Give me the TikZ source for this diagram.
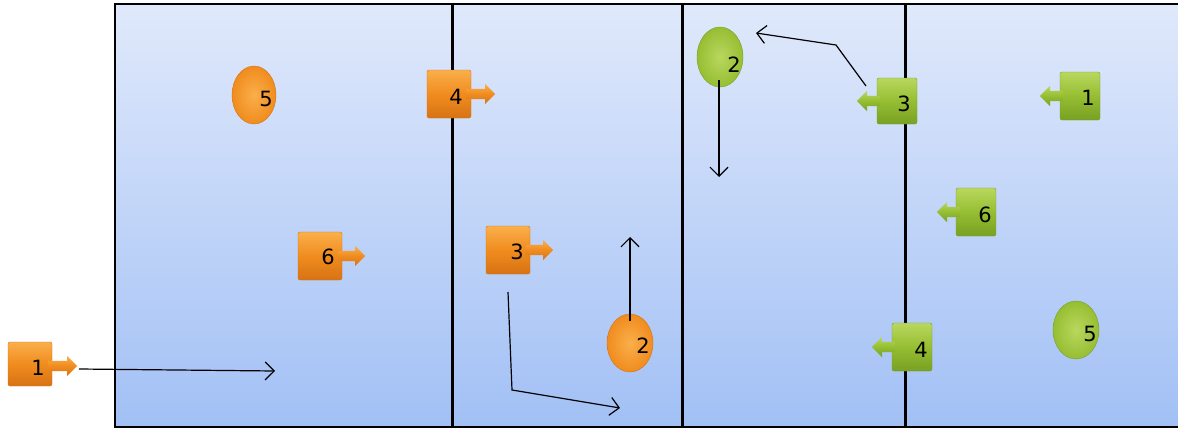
\documentclass[tikz,border=0pt]{standalone}
\usepackage{fontspec}
\setsansfont{DejaVu Sans}
\usepackage{xcolor}
\usepackage{tikz}
\usetikzlibrary{arrows.meta, shapes.geometric, shapes.arrows, positioning}
\definecolor{courtTop}{RGB}{224,233,251}
\definecolor{courtBot}{RGB}{162,192,245}
\definecolor{orLight}{RGB}{250,175,75}
\definecolor{orMid}{RGB}{240,140,30}
\definecolor{orDark}{RGB}{215,115,20}
\definecolor{grLight}{RGB}{185,215,95}
\definecolor{grMid}{RGB}{150,190,50}
\definecolor{grDark}{RGB}{120,160,35}
\tikzset{
    netline/.style={line width=3pt},
    move/.style={-{Straight Barb[length=9pt,width=18pt]}, line width=1.2pt},
    oSquare/.style={rectangle, rounded corners=2pt, inner sep=0pt, minimum width=44, minimum height=48,
        top color=orLight, bottom color=orDark, middle color=orMid, draw=orDark, line width=0.4pt},
    gSquare/.style={rectangle, rounded corners=2pt, inner sep=0pt, minimum width=40, minimum height=48,
        top color=grLight, bottom color=grDark, middle color=grMid, draw=grDark, line width=0.4pt},
    oBall/.style={ellipse, inner sep=0pt, minimum width=44, minimum height=58,
        inner color=orLight, outer color=orMid, draw=orDark, line width=0.4pt},
    gBall/.style={ellipse, inner sep=0pt, minimum width=46, minimum height=60,
        inner color=grLight, outer color=grMid, draw=grDark, line width=0.4pt},
    oArrow/.style={single arrow, anchor=tail, inner sep=5pt, minimum height=29, single arrow head extend=5pt,
        top color=orLight, bottom color=orDark, middle color=orMid, draw=none},
    gArrow/.style={single arrow, anchor=tail, shape border rotate=180, inner sep=5pt, minimum height=23, single arrow head extend=5pt,
        top color=grLight, bottom color=grDark, middle color=grMid, draw=none},
    num/.style={font=\sffamily\fontsize{21}{21}\selectfont, inner sep=0pt, text=black}
}

\begin{document}
\begin{tikzpicture}[x=1pt, y=-1pt]
    \useasboundingbox (0,0) rectangle (1178,434);

    % Court
    \shade[top color=courtTop, bottom color=courtBot] (115,4) rectangle (1178,427);
    \draw[line width=1.5pt] (1178,4) -- (115,4) -- (115,427) -- (1178,427);

    % Net lines
    \draw[netline] (452,4) -- (452,427);
    \draw[netline] (682,4) -- (682,427);
    \draw[netline] (905,4) -- (905,427);

    % Orange team
    \node[oSquare, minimum height=44] (o1) at (30,364) {};
    \node[oArrow] (o1a) at (48,366) {};
    \node[num] (o1n) at (38,368) {1};

    \node[oSquare] (o4) at (449,94) {};
    \node[oArrow] (o4a) at (466,94) {};
    \node[num] (o4n) at (456,97) {4};

    \node[oSquare] (o6) at (320,256) {};
    \node[oArrow, minimum height=27] (o6a) at (338,256) {};
    \node[num] (o6n) at (328,257) {6};

    \node[oSquare] (o3) at (508,250) {};
    \node[oArrow, minimum height=27] (o3a) at (526,250) {};
    \node[num] (o3n) at (517,252) {3};

    \node[oBall] (o5) at (254,95) {};
    \node[num] (o5n) at (266,99) {5};

    \node[oBall, minimum width=46] (o2) at (630,343) {};
    \node[num] (o2n) at (643,346) {2};

    % Green team
    \node[gSquare, minimum height=46] (g3) at (897,101) {};
    \node[gArrow] (g3a) at (880,101) {};
    \node[num] (g3n) at (904,104) {3};

    \node[gSquare] (g1) at (1080,96) {};
    \node[gArrow] (g1a) at (1063,96) {};
    \node[num] (g1n) at (1088,98) {1};

    \node[gSquare] (g6) at (976,212) {};
    \node[gArrow] (g6a) at (960,212) {};
    \node[num] (g6n) at (985,215) {6};

    \node[gSquare] (g4) at (912,347) {};
    \node[gArrow] (g4a) at (895,347) {};
    \node[num] (g4n) at (921,350) {4};

    \node[gBall] (g2) at (720,57) {};
    \node[num] (g2n) at (734,65) {2};

    \node[gBall, minimum height=58] (g5) at (1076,330) {};
    \node[num] (g5n) at (1090,334) {5};

    % Movements
    \coordinate (o1from) at (79,369);
    \coordinate (o1go) at (275,371);
    \draw[move] (o1from) -- (o1go);

    \coordinate (o2from) at (630,321);
    \coordinate (o2go) at (630,237);
    \draw[move] (o2from) -- (o2go);

    \coordinate (o3from) at (508,292);
    \coordinate (o3bend) at (512,390);
    \coordinate (o3go) at (620,408);
    \draw[move] (o3from) -- (o3bend) -- (o3go);

    \coordinate (g3from) at (866,86);
    \coordinate (g3bend) at (836,45);
    \coordinate (g3go) at (756,33);
    \draw[move] (g3from) -- (g3bend) -- (g3go);

    \coordinate (g2from) at (719,80);
    \coordinate (g2go) at (719,177);
    \draw[move] (g2from) -- (g2go);
\end{tikzpicture}
\end{document}
